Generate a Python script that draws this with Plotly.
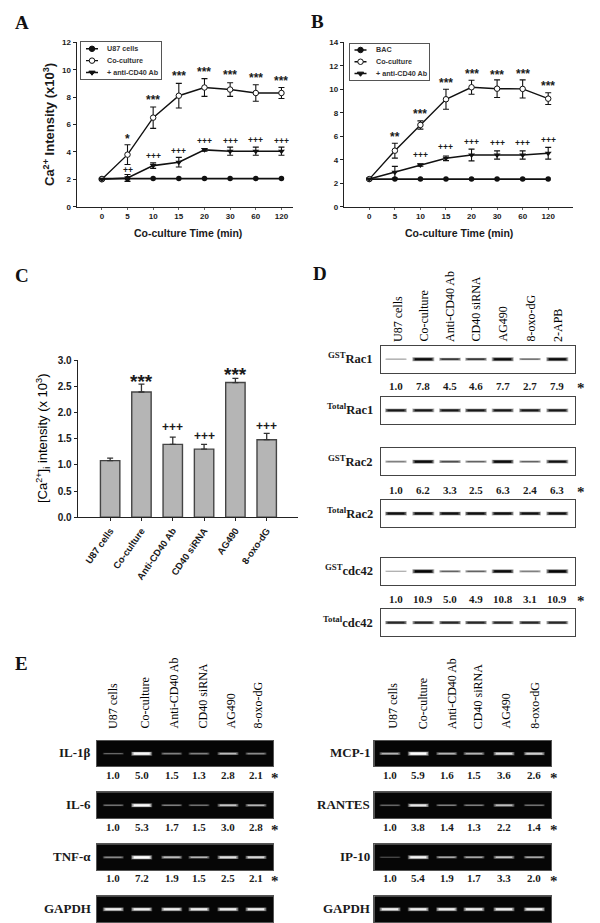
import plotly.graph_objects as go

W, H = 600, 923

# ---------- data ----------
time_labels = ["0", "5", "10", "15", "20", "30", "60", "120"]
time_pos = [0, 1, 2, 3, 4, 5, 6, 7]

a_u87 = [2.05, 2.05, 2.05, 2.05, 2.05, 2.05, 2.05, 2.05]
a_co = [2.0, 3.8, 6.5, 8.1, 8.7, 8.55, 8.3, 8.3]
a_co_err = [0.05, 0.72, 0.78, 0.9, 0.65, 0.5, 0.6, 0.4]
a_ab = [2.0, 2.1, 3.0, 3.25, 4.15, 4.05, 4.05, 4.05]
a_ab_err = [0.05, 0.25, 0.2, 0.35, 0.1, 0.3, 0.3, 0.3]
a_star = ["", "*", "***", "***", "***", "***", "***", "***"]
a_star_y = [0, 5.1, 7.9, 9.7, 10.0, 9.75, 9.55, 9.3]
a_plus = ["", "++", "+++", "+++", "+++", "+++", "+++", "+++"]
a_plus_y = [0, 2.68, 3.7, 4.1, 4.77, 4.77, 4.85, 4.8]
a_names = ["U87 cells", "Co-culture", "+ anti-CD40 Ab"]

b_bac = [2.35, 2.35, 2.35, 2.35, 2.35, 2.35, 2.35, 2.35]
b_co = [2.35, 4.77, 6.96, 9.15, 10.17, 10.05, 10.03, 9.2]
b_co_err = [0.05, 0.63, 0.35, 0.85, 0.6, 0.75, 0.77, 0.5]
b_ab = [2.35, 2.93, 3.55, 4.12, 4.4, 4.4, 4.4, 4.55]
b_ab_err = [0.05, 0.5, 0.1, 0.2, 0.5, 0.35, 0.35, 0.5]
b_star = ["", "**", "***", "***", "***", "***", "***", "***"]
b_star_y = [0, 6.1, 8.1, 10.7, 11.5, 11.4, 11.45, 10.45]
b_plus = ["", "", "+++", "+++", "+++", "+++", "+++", "+++"]
b_plus_y = [0, 0, 4.37, 5.1, 5.54, 5.4, 5.42, 5.65]
b_names = ["BAC", "Co-culture", "+ anti-CD40 Ab"]

c_cats = ["U87 cells", "Co-culture", "Anti-CD40 Ab", "CD40 siRNA", "AG490", "8-oxo-dG"]
c_vals = [1.08, 2.39, 1.39, 1.30, 2.57, 1.48]
c_errs = [0.05, 0.15, 0.14, 0.09, 0.08, 0.12]
c_marks = ["", "***", "+++", "+++", "***", "+++"]
c_marks_y = [0, 2.71, 1.72, 1.56, 2.84, 1.75]

d_cols = ["U87 cells", "Co-culture", "Anti-CD40 Ab", "CD40 siRNA", "AG490", "8-oxo-dG", "2-APB"]
d_rac1_num = ["1.0", "7.8", "4.5", "4.6", "7.7", "2.7", "7.9"]
d_rac2_num = ["1.0", "6.2", "3.3", "2.5", "6.3", "2.4", "6.3"]
d_cdc42_num = ["1.0", "10.9", "5.0", "4.9", "10.8", "3.1", "10.9"]
d_rac1_band = [0.15, 0.9, 0.6, 0.6, 0.9, 0.35, 0.9]
d_rac1t_band = [0.8, 0.8, 0.8, 0.8, 0.8, 0.8, 0.8]
d_rac2_band = [0.3, 0.9, 0.5, 0.4, 0.9, 0.4, 0.85]
d_rac2t_band = [0.85, 0.85, 0.85, 0.85, 0.85, 0.85, 0.85]
d_cdc_band = [0.1, 0.95, 0.4, 0.4, 0.9, 0.3, 0.95]
d_cdct_band = [0.7, 0.7, 0.7, 0.7, 0.7, 0.7, 0.7]

e_cols = ["U87 cells", "Co-culture", "Anti-CD40 Ab", "CD40 siRNA", "AG490", "8-oxo-dG"]
e_il1_num = ["1.0", "5.0", "1.5", "1.3", "2.8", "2.1"]
e_il6_num = ["1.0", "5.3", "1.7", "1.5", "3.0", "2.8"]
e_tnf_num = ["1.0", "7.2", "1.9", "1.5", "2.5", "2.1"]
e_mcp_num = ["1.0", "5.9", "1.6", "1.5", "3.6", "2.6"]
e_rantes_num = ["1.0", "3.8", "1.4", "1.3", "2.2", "1.4"]
e_ip10_num = ["1.0", "5.4", "1.9", "1.7", "3.3", "2.0"]
e_il1_band = [0.2, 0.95, 0.3, 0.3, 0.55, 0.35]
e_il6_band = [0.25, 0.95, 0.3, 0.25, 0.6, 0.5]
e_tnf_band = [0.35, 1.0, 0.55, 0.5, 0.75, 0.7]
e_gapdh_band = [0.85, 0.85, 0.85, 0.85, 0.85, 0.85]
e_mcp_band = [0.5, 1.0, 0.5, 0.5, 0.75, 0.65]
e_rantes_band = [0.2, 0.8, 0.3, 0.3, 0.55, 0.25]
e_ip10_band = [0.1, 0.9, 0.45, 0.45, 0.6, 0.45]

# ---------- layout geometry ----------
SANS = "Liberation Sans"
SERIF = "Liberation Serif"
INK = "#1a1a1a"
fig = go.Figure()
layout = {}
annots = []
shapes = []
axis_n = [0]


def new_axes(x0, x1, ytop, ybot, xopts, yopts):
    axis_n[0] += 1
    n = axis_n[0]
    s = "" if n == 1 else str(n)
    layout["xaxis" + s] = dict(domain=[x0 / W, x1 / W], anchor="y" + s, **xopts)
    layout["yaxis" + s] = dict(domain=[1 - ybot / H, 1 - ytop / H], anchor="x" + s, **yopts)
    return "x" + s, "y" + s


def text_px(x, y, txt, size, family=SERIF, weight=700, xanchor="center", yanchor="middle", angle=0, color=INK):
    annots.append(dict(x=x / W, y=1 - y / H, xref="paper", yref="paper", text=txt, showarrow=False,
                       xanchor=xanchor, yanchor=yanchor, textangle=angle, borderpad=0,
                       font=dict(family=family, size=size, weight=weight, color=color)))


def text_data(xa, ya, x, y, txt, size, yshift=0):
    annots.append(dict(x=x, y=y, xref=xa, yref=ya, text=txt, showarrow=False, yshift=yshift,
                       font=dict(family=SANS, size=size, weight=700, color=INK)))


def legend_box(x0, x1, ytop, ybot, names):
    """Small legend drawn in its own axes: Plotly's built-in legend cannot use rows this tight."""
    rows = [2, 1, 0]
    edge = dict(showline=True, mirror=True, linecolor="#555", linewidth=1, showgrid=False, zeroline=False,
                showticklabels=False, ticks="", fixedrange=True)
    xa, ya = new_axes(x0, x1, ytop, ybot, dict(range=[0, x1 - x0], **edge), dict(range=[-0.55, 2.55], **edge))
    syms = [("circle", "#111"), ("circle", "white"), ("triangle-down", "#111")]
    for r, nm, (sym, col) in zip(rows, names, syms):
        fig.add_trace(go.Scatter(x=[5, 11, 17], y=[r, r, r], mode="lines", xaxis=xa, yaxis=ya, showlegend=False,
                                 hoverinfo="skip", line=dict(color="#111", width=1.4)))
        fig.add_trace(go.Scatter(x=[11], y=[r], mode="markers", xaxis=xa, yaxis=ya, showlegend=False,
                                 hoverinfo="skip",
                                 marker=dict(symbol=sym, size=5.5, color=col, line=dict(color="#111", width=1))))
        annots.append(dict(x=24, y=r, xref=xa, yref=ya, text=nm, showarrow=False, xanchor="left",
                           font=dict(family=SANS, size=7.2, weight=700, color="#333")))


def line_panel(x0, x1, ytop, ybot, ymax, xrange_, base, co, co_err, ab, ab_err, names,
               stars, stars_y, plus, plus_y):
    tickf = dict(family=SANS, size=8, weight=700, color=INK)
    xa, ya = new_axes(
        x0, x1, ytop, ybot,
        dict(range=xrange_, tickmode="array", tickvals=time_pos, ticktext=time_labels, showgrid=False,
             zeroline=False, showline=True, linecolor="#222", linewidth=1.3, ticks="outside", ticklen=2,
             tickcolor="#666", tickwidth=0.6, tickfont=tickf),
        dict(range=[0, ymax], dtick=2, showgrid=False, zeroline=False, showline=True, linecolor="#222",
             linewidth=1.3, ticks="outside", ticklen=3, tickcolor="#222", tickwidth=1, tickfont=tickf),
    )
    common = dict(xaxis=xa, yaxis=ya, mode="lines+markers", showlegend=False)
    ebar = dict(type="data", thickness=1.1, width=3, color="#111")
    fig.add_trace(go.Scatter(x=time_pos, y=base, name=names[0], line=dict(color="#111", width=1.6),
                             marker=dict(symbol="circle", size=5.5, color="#111"), **common))
    fig.add_trace(go.Scatter(x=time_pos, y=co, name=names[1], line=dict(color="#111", width=1.4),
                             error_y=dict(array=co_err, **ebar),
                             marker=dict(symbol="circle", size=5.5, color="white", line=dict(color="#111", width=1)),
                             **common))
    fig.add_trace(go.Scatter(x=time_pos, y=ab, name=names[2], line=dict(color="#111", width=1.6),
                             error_y=dict(array=ab_err, **ebar),
                             marker=dict(symbol="triangle-down", size=6, color="#111"), **common))
    for i, s in enumerate(stars):
        if s:
            text_data(xa, ya, time_pos[i], stars_y[i], s, 12, yshift=-2)
    for i, s in enumerate(plus):
        if s:
            text_data(xa, ya, time_pos[i], plus_y[i], s, 8.5)


# Panel A
line_panel(76.7, 293, 42.3, 206.7, 12, [-0.98, 7.45], a_u87, a_co, a_co_err, a_ab, a_ab_err, a_names,
           a_star, a_star_y, a_plus, a_plus_y)
legend_box(81, 161.3, 42.3, 79, a_names)
text_px(49, 125, "Ca<sup>2+</sup> Intensity (x10<sup>3</sup>)", 13, SANS, angle=-90)
# Panel B
line_panel(344, 573, 42.3, 206.7, 14, [-0.99, 7.97], b_bac, b_co, b_co_err, b_ab, b_ab_err, b_names,
           b_star, b_star_y, b_plus, b_plus_y)
legend_box(349.5, 429, 43.5, 80, b_names)
text_px(188, 233.5, "Co-culture Time (min)", 10.5, SANS)
text_px(459, 233.5, "Co-culture Time (min)", 10.5, SANS)

# Panel C
c_pos = [0, 1, 2, 3, 4, 5]
xa, ya = new_axes(
    77.7, 297.7, 360, 517.3,
    dict(range=[-1.036, 5.99], tickmode="array", tickvals=c_pos, ticktext=c_cats, tickangle=-55, showgrid=False,
         zeroline=False, showline=True, linecolor="#222", linewidth=1.3, ticks="outside", ticklen=3,
         tickcolor="#222", tickfont=dict(family=SANS, size=9.5, weight=700, color=INK)),
    dict(range=[0, 3], dtick=0.5, tickformat=".1f", showgrid=False, zeroline=False, showline=True, linecolor="#222",
         linewidth=1.3, ticks="outside", ticklen=3, tickcolor="#222",
         tickfont=dict(family=SANS, size=10, weight=700, color=INK)),
)
fig.add_trace(go.Bar(x=c_pos, y=c_vals, width=0.62, xaxis=xa, yaxis=ya, showlegend=False,
                     marker=dict(color="#b5b5b5", line=dict(color="#444", width=1.4)),
                     error_y=dict(type="data", array=c_errs, symmetric=False, arrayminus=[0] * 6,
                                  thickness=1.3, width=3, color="#333")))
for i, m in enumerate(c_marks):
    if m:
        text_data(xa, ya, c_pos[i], c_marks_y[i], m, 12 if m == "+++" else 19, yshift=-6 if m == "***" else 0)
text_px(43, 438, "[Ca<sup>2+</sup>]<sub>i</sub> intensity (x 10<sup>3</sup>)", 13, SANS, weight=400, angle=-90, color="#000")


# Blots
def blot(x0, x1, ytop, ybot, lanes, band, dark, band_h):
    edge = "#444" if not dark else "#555"
    xa, ya = new_axes(
        x0, x1, ytop, ybot,
        dict(range=[x0, x1], visible=True, showticklabels=False, ticks="", showgrid=False, zeroline=False,
             showline=True, mirror=True, linecolor=edge, linewidth=1.2),
        dict(range=[-1, 1], showticklabels=False, ticks="", showgrid=False, zeroline=False,
             showline=True, mirror=True, linecolor=edge, linewidth=1.2),
    )
    if dark:
        shapes.append(dict(type="rect", xref=xa + " domain", yref=ya + " domain", x0=0, x1=1, y0=0, y1=1,
                           fillcolor="#060606", line=dict(width=0), layer="below"))
    rgb = "255,255,255" if dark else "0,0,0"
    for lane, v in zip(lanes, band):
        layers = [(band_h, 1.2 + 3.0 * v, 0.10 + 0.22 * v),
                  (band_h - 2, 0.9 + 2.4 * v, 0.15 + 0.4 * v),
                  (band_h - 5, 0.4 + 1.8 * v, v ** 1.3)]
        for ln, wd, al in layers:
            fig.add_trace(go.Scatter(x=[lane - ln / 2, lane + ln / 2], y=[0, 0], mode="lines", hoverinfo="skip",
                                     xaxis=xa, yaxis=ya, showlegend=False,
                                     line=dict(color=f"rgba({rgb},{al:.2f})", width=wd)))


d_lanes = [396, 423.3, 450, 476, 502.7, 530, 557.3]
d_labels_x = [398, 423, 449.5, 475, 502, 530, 557.5]
BX0, BX1 = 380.7, 575
d_rows = [
    (345.7, 372.7, d_rac1_band, "<sup>GST</sup>Rac1", d_rac1_num, 386),
    (397, 423.7, d_rac1t_band, "<sup>Total</sup>Rac1", None, 0),
    (448.3, 475, d_rac2_band, "<sup>GST</sup>Rac2", d_rac2_num, 489.5),
    (500, 527, d_rac2t_band, "<sup>Total</sup>Rac2", None, 0),
    (557.7, 585, d_cdc_band, "<sup>GST</sup>cdc42", d_cdc42_num, 598.5),
    (609.3, 636, d_cdct_band, "<sup>Total</sup>cdc42", None, 0),
]
for yt, yb, band, lab, nums, ny in d_rows:
    blot(BX0, BX1, yt, yb, d_lanes, band, False, 22)
    text_px(374, (yt + yb) / 2 - 1, lab, 12.5, xanchor="right")
    if nums:
        for lx, n in zip(d_lanes, nums):
            text_px(lx, ny, n, 11)
        text_px(581, ny + 2, "*", 15)
for lx, c in zip(d_labels_x, d_cols):
    text_px(lx, 343, c, 12, weight=400, yanchor="bottom", angle=-90, color="#000")

e_l_lanes = [113.3, 141.7, 171.7, 199, 228, 256]
e_l_cols = [113, 144, 173, 202, 230, 257]
e_r_lanes = [390, 418.3, 446.7, 474, 504, 534.3]
e_r_cols = [392.7, 422.7, 451.7, 477.7, 505, 534.3]
rows_y = [(741, 766.3, 775.3), (792.3, 818.3, 826.7), (844.3, 870.3, 878.3), (896.3, 922.3, None)]
left = [("IL-1β", e_il1_band, e_il1_num), ("IL-6", e_il6_band, e_il6_num), ("TNF-α", e_tnf_band, e_tnf_num),
        ("GAPDH", e_gapdh_band, None)]
right = [("MCP-1", e_mcp_band, e_mcp_num), ("RANTES", e_rantes_band, e_rantes_num), ("IP-10", e_ip10_band, e_ip10_num),
         ("GAPDH", e_gapdh_band, None)]
for (x0, x1, lanes, collab, rows, lx, sx) in [(97, 273.3, e_l_lanes, e_l_cols, left, 91.7, 275),
                                               (374.3, 551, e_r_lanes, e_r_cols, right, 370.7, 554)]:
    for (yt, yb, ny), (name, band, nums) in zip(rows_y, rows):
        blot(x0, x1, yt, yb, lanes, band, True, 21)
        text_px(lx, (yt + yb) / 2 - 1, name, 13, xanchor="right")
        if nums:
            for p, n in zip(lanes, nums):
                text_px(p, ny, n, 11)
            text_px(sx, ny + 3, "*", 15)
    for p, c in zip(collab, e_cols):
        text_px(p, 730, c, 12, weight=400, yanchor="bottom", angle=-90, color="#000")

for x, y, t in [(22, 22, "A"), (317, 21, "B"), (22, 275, "C"), (320, 274, "D"), (21, 663, "E")]:
    text_px(x, y, t, 19, color="#111")

fig.update_layout(width=W, height=H, margin=dict(l=0, r=0, t=0, b=0, autoexpand=False), paper_bgcolor="white",
                  plot_bgcolor="rgba(0,0,0,0)", annotations=annots, shapes=shapes, **layout)
fig.write_html("out.html", config={"displayModeBar": False},
               post_script="document.body.style.margin='0';document.body.style.overflow='hidden';")
